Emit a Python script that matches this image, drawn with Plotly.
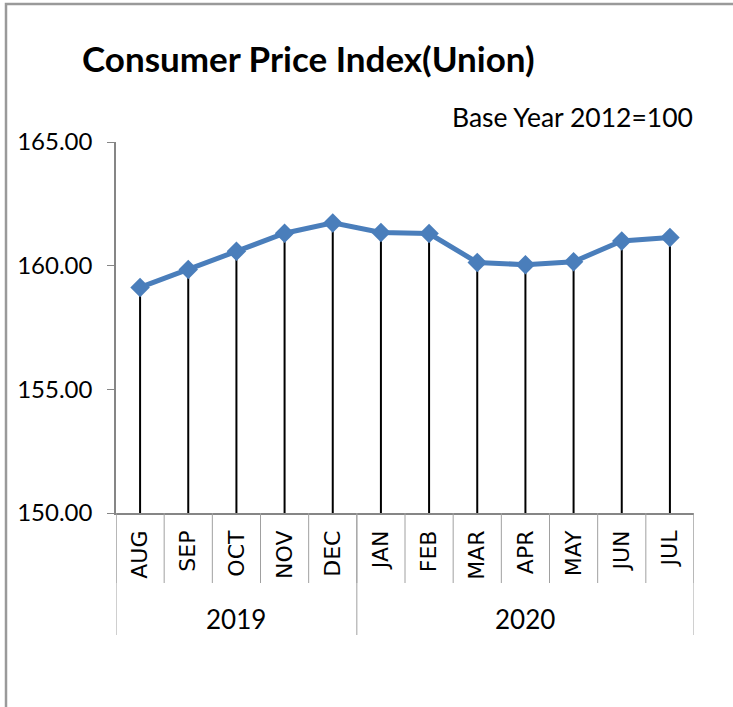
import plotly.graph_objects as go

years = ["2019"] * 5 + ["2020"] * 7
months = ["AUG", "SEP", "OCT", "NOV", "DEC", "JAN", "FEB", "MAR", "APR", "MAY", "JUN", "JUL"]
cpi = [159.12, 159.85, 160.58, 161.31, 161.73, 161.34, 161.30, 160.13, 160.04, 160.16, 161.00, 161.14]
y_ticks = [150, 155, 160, 165]
y_min = 150

W, H = 733, 707
ML, MR, MT, MB = 116, 39, 142, 194
pw = W - ML - MR
ph = H - MT - MB

# year groups -> (label, first index, last index)
groups = []
for i, yr in enumerate(years):
    if groups and groups[-1][0] == yr:
        groups[-1][2] = i
    else:
        groups.append([yr, i, i])

fig = go.Figure()
fig.add_trace(go.Scatter(
    x=months,
    y=cpi,
    mode="lines+markers",
    line=dict(color="#4a7ebb", width=5),
    marker=dict(symbol="diamond", size=15, color="#4a7ebb"),
    error_y=dict(type="data", symmetric=False, array=[0] * len(cpi),
                 arrayminus=[v - y_min for v in cpi],
                 color="black", thickness=2, width=0),
    showlegend=False,
))

annotations = [dict(text="Base Year 2012=100", xref="paper", yref="paper",
                    x=(695 - ML) / pw, y=(H - MB - 117) / ph, xanchor="right", yanchor="middle",
                    showarrow=False, font=dict(family="Lato", size=26.5, color="black"))]
shapes = [dict(type="rect", xref="paper", yref="paper",
               x0=(6 - ML) / pw, x1=(W + 10 - ML) / pw,
               y0=(H - MB - (H + 10)) / ph, y1=(H - MB - 4) / ph,
               line=dict(color="#9a9a9a", width=2.5), fillcolor="rgba(0,0,0,0)", layer="below")]

month_bottom = -(583 - (H - MB)) / ph
div_bottom = -(635 - (H - MB)) / ph
year_y = -(619 - (H - MB)) / ph
for k in range(len(months) + 1):
    shapes.append(dict(type="line", xref="x", yref="paper", x0=k - 0.5, x1=k - 0.5,
                       y0=0, y1=month_bottom, line=dict(color="#a0a0a0", width=1)))
boundaries = [groups[0][1] - 0.5] + [g[2] + 0.5 for g in groups]
for b in boundaries:
    shapes.append(dict(type="line", xref="x", yref="paper", x0=b, x1=b, y0=0, y1=div_bottom,
                       line=dict(color="#a0a0a0", width=1)))
for label, i0, i1 in groups:
    annotations.append(dict(text=label, xref="x", yref="paper", x=(i0 + i1) / 2, y=year_y,
                            xanchor="center", yanchor="middle", showarrow=False,
                            font=dict(family="Lato", size=26, color="black")))

fig.update_layout(
    width=W, height=H,
    margin=dict(l=ML, r=MR, t=MT, b=MB, autoexpand=False),
    paper_bgcolor="white", plot_bgcolor="white",
    title=dict(text="<b>Consumer Price Index(Union)</b>",
               font=dict(family="Lato", size=35, color="black"),
               x=82 / W, xanchor="left", xref="container",
               y=1 - 60 / H, yanchor="middle", yref="container"),
    xaxis=dict(type="category", range=[-0.5, len(months) - 0.5],
               showline=True, linecolor="#868686", linewidth=1.5,
               ticks="", tickangle=-90, ticklabelstandoff=7,
               tickfont=dict(family="DejaVu Sans", size=22, color="black"),
               showgrid=False, zeroline=False),
    yaxis=dict(range=[150, 165], tickvals=y_ticks, tickformat=".2f",
               showline=True, linecolor="#868686", linewidth=1.5,
               ticks="outside", ticklen=7, tickcolor="#868686", ticklabelstandoff=10,
               tickfont=dict(family="Lato", size=24, color="black"),
               showgrid=False, zeroline=False),
    font=dict(family="Lato", size=24, color="black"),
    annotations=annotations,
    shapes=shapes,
)

fig.write_html("out.html", config={"displayModeBar": False},
               post_script="document.body.style.margin='0';")
